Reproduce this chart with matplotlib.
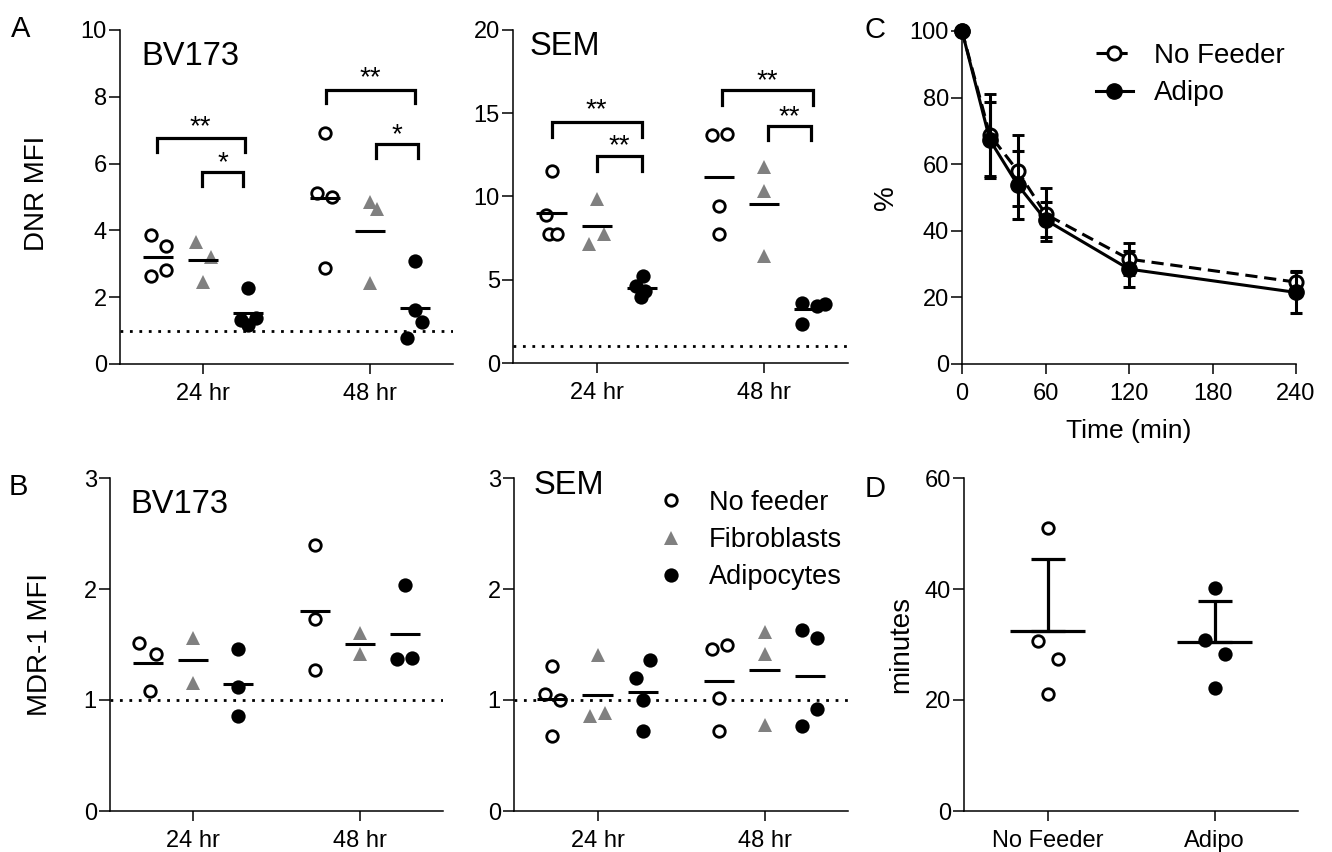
import matplotlib
matplotlib.use('Agg')
import matplotlib.pyplot as plt
from matplotlib.lines import Line2D
import numpy as np

plt.rcParams['font.family'] = ['Liberation Sans', 'DejaVu Sans']

# ---- data ----
times = ['24 hr', '48 hr']

# A: DNR MFI, each list = [24 hr values, 48 hr values]
bv_dnr_nf = [[3.87, 3.52, 2.80, 2.62], [6.91, 5.13, 5.01, 2.87]]
bv_dnr_fb = [[3.64, 3.20, 2.47], [4.84, 4.64, 2.44]]
bv_dnr_ad = [[2.27, 1.38, 1.33, 1.18], [3.07, 1.62, 1.25, 0.78]]

sem_dnr_nf = [[11.56, 8.90, 7.76, 7.76], [13.70, 13.76, 9.40, 7.76]]
sem_dnr_fb = [[9.84, 7.74, 7.14], [11.80, 10.34, 6.44]]
sem_dnr_ad = [[5.20, 4.60, 4.30, 3.94], [3.60, 3.44, 3.54, 2.36]]

# B: MDR-1 MFI
bv_mdr_nf = [[1.515, 1.41, 1.08], [2.40, 1.73, 1.27]]
bv_mdr_fb = [[1.56, 1.155], [1.605, 1.41]]
bv_mdr_ad = [[1.46, 1.12, 0.855], [2.04, 1.365, 1.38]]

sem_mdr_nf = [[1.305, 1.053, 1.00, 0.675], [1.458, 1.494, 1.02, 0.723]]
sem_mdr_fb = [[1.404, 0.855, 0.879], [1.614, 1.41, 0.774]]
sem_mdr_ad = [[1.36, 1.194, 1.00, 0.723], [1.63, 1.563, 0.915, 0.765]]

# C: retention over time
time_min = [0, 20, 40, 60, 120, 240]
nf_pct = [100, 68.8, 58.0, 45.0, 31.5, 24.6]
nf_err = [0, 12.2, 10.7, 8.0, 4.8, 3.0]
ad_pct = [100, 67.3, 53.8, 43.3, 28.5, 21.5]
ad_err = [0, 11.3, 10.3, 5.3, 5.5, 6.3]

# D: half-life minutes
d_groups = ['No Feeder', 'Adipo']
d_nf = [51.05, 30.65, 27.3, 21.06]
d_ad = [40.25, 30.9, 28.25, 22.08]

# ---- horizontal scatter of points (layout only, units of jitter step) ----
JIT = 0.044
bv_dnr_jit = {'nf': [[-1, 1, 1, -1], [0, -1, 1, 0]], 'fb': [[-1, 1, 0], [0, 1, 0]],
              'ad': [[0, 1, -1, 0], [0, 0, 1, -1]]}
sem_dnr_jit = {'nf': [[0, -0.8, -0.4, 0.7], [-0.9, 1.1, 0, 0]], 'fb': [[0, 1, -1], [0, 0, 0]],
               'ad': [[0.1, -0.8, 0.4, -0.1], [-0.95, 1, 2.1, -0.95]]}
bv_mdr_jit = {'nf': [[-1.3, 1, 0.2], [0, 0, 0]], 'fb': [[0, 0], [0, 0]],
              'ad': [[0, 0, 0], [0, -1, 1]]}
sem_mdr_jit = {'nf': [[0, -1, 1, 0], [-1, 1.1, 0, 0]], 'fb': [[0, -1, 1], [0, 0, 0]],
               'ad': [[1, -0.9, 0, 0], [-1, 1, 1, -1]]}
d_jit = [[0, -1.36, 1.45, 0], [0, -1.36, 1.45, 0]]

W, H = 1332, 852
fig = plt.figure(figsize=(W / 100, H / 100), dpi=100)


def rect(l, t, r, b):
    return [l / W, 1 - b / H, (r - l) / W, (b - t) / H]


style = {
    'nf': dict(marker='o', mfc='white', mec='black', mew=2.0, ms=8.3, ls='none'),
    'fb': dict(marker='^', mfc='#808080', mec='#808080', mew=0, ms=10, ls='none'),
    'ad': dict(marker='o', mfc='black', mec='black', mew=0, ms=10.3, ls='none'),
}
offsets = {'nf': -0.27, 'fb': 0.0, 'ad': 0.27}
TICK = 17
LAB = 20


def base_axes(ax):
    for s in ['top', 'right']:
        ax.spines[s].set_visible(False)
    for s in ['left', 'bottom']:
        ax.spines[s].set_linewidth(1.1)
    ax.tick_params(direction='out', width=1.1, labelsize=TICK)
    ax.tick_params(axis='y', length=8, pad=1.5)
    ax.tick_params(axis='x', length=7, pad=7)


def dot_panel(ax, series, jit, ymax, yticks, title, title_xy):
    base_axes(ax)
    for key, vals in series.items():
        for i, v in enumerate(vals):
            c = i + offsets[key]
            xs = c + np.array(jit[key][i]) * JIT
            ax.plot(xs, v, clip_on=False, zorder=3, **style[key])
            ax.hlines(np.mean(v), c - 0.09, c + 0.09, color='black', lw=2.2, zorder=4)
    ax.axhline(1, color='black', lw=2, ls=(0, (1, 2.4)), zorder=1)
    ax.set_xlim(-0.5, 1.5)
    ax.set_ylim(0, ymax)
    ax.set_yticks(yticks)
    ax.set_xticks([0, 1])
    ax.set_xticklabels(times)
    ax.text(title_xy[0], title_xy[1], title, transform=ax.transAxes, fontsize=23.5,
            va='center')


def bracket(ax, x0, x1, y_top, y_leg, label, y_lab):
    ax.plot([x0, x0, x1, x1], [y_leg, y_top, y_top, y_leg], color='black', lw=2.3,
            solid_joinstyle='miter', clip_on=False)
    ax.text((x0 + x1) / 2, y_lab, label, ha='center', va='center', fontsize=20)


# ---- A: BV173 DNR ----
axA1 = fig.add_axes(rect(120, 30, 453, 364))
dot_panel(axA1, {'nf': bv_dnr_nf, 'fb': bv_dnr_fb, 'ad': bv_dnr_ad}, bv_dnr_jit,
          10, [0, 2, 4, 6, 8, 10], 'BV173', (0.065, 0.92))
axA1.set_ylabel('DNR MFI', fontsize=LAB)
axA1.yaxis.set_label_coords(-0.21, 0.51)
bracket(axA1, -0.28, 0.25, 6.78, 6.36, '**', 7.1)
bracket(axA1, -0.01, 0.24, 5.74, 5.33, '*', 6.0)
bracket(axA1, 0.74, 1.27, 8.2, 7.8, '**', 8.55)
bracket(axA1, 1.04, 1.29, 6.58, 6.16, '*', 6.85)

# ---- A: SEM DNR ----
axA2 = fig.add_axes(rect(513, 30, 848, 363))
dot_panel(axA2, {'nf': sem_dnr_nf, 'fb': sem_dnr_fb, 'ad': sem_dnr_ad}, sem_dnr_jit,
          20, [0, 5, 10, 15, 20], 'SEM', (0.05, 0.95))
bracket(axA2, -0.27, 0.27, 14.46, 13.6, '**', 15.2)
bracket(axA2, 0.0, 0.27, 12.44, 11.56, '**', 13.0)
bracket(axA2, 0.75, 1.29, 16.4, 15.5, '**', 16.95)
bracket(axA2, 1.02, 1.28, 14.24, 13.4, '**', 14.75)

# ---- B: BV173 MDR-1 ----
axB1 = fig.add_axes(rect(110, 478, 443, 811))
dot_panel(axB1, {'nf': bv_mdr_nf, 'fb': bv_mdr_fb, 'ad': bv_mdr_ad}, bv_mdr_jit,
          3, [0, 1, 2, 3], 'BV173', (0.062, 0.919))
axB1.set_ylabel('MDR-1 MFI', fontsize=LAB)
axB1.yaxis.set_label_coords(-0.17, 0.5)

# ---- B: SEM MDR-1 ----
axB2 = fig.add_axes(rect(514, 478, 848, 811))
dot_panel(axB2, {'nf': sem_mdr_nf, 'fb': sem_mdr_fb, 'ad': sem_mdr_ad}, sem_mdr_jit,
          3, [0, 1, 2, 3], 'SEM', (0.058, 0.976))
leg_handles = [Line2D([], [], **style['nf']), Line2D([], [], **style['fb']),
               Line2D([], [], **style['ad'])]
axB2.legend(leg_handles, ['No feeder', 'Fibroblasts', 'Adipocytes'], loc='upper left',
            bbox_to_anchor=(0.43, 0.965), frameon=False, fontsize=19.5, handlelength=1.0,
            handletextpad=0.9, labelspacing=0.42, borderpad=0, borderaxespad=0)

# ---- C: time course ----
axC = fig.add_axes(rect(962, 31, 1296, 364))
base_axes(axC)
axC.errorbar(time_min, nf_pct, yerr=nf_err, color='black', lw=2.2, ls=(0, (4, 2.2)),
             marker='o', mfc='white', mec='black', mew=2.1, ms=9.5, capsize=4.5,
             capthick=2.2, elinewidth=2.2, clip_on=False, zorder=3, label='No Feeder')
axC.errorbar(time_min, ad_pct, yerr=ad_err, color='black', lw=2.2, marker='o', ms=11,
             capsize=4.5, capthick=2.2, elinewidth=2.2, clip_on=False, zorder=4,
             label='Adipo')
axC.set_xlim(0, 240)
axC.set_ylim(0, 100)
axC.set_xticks([0, 60, 120, 180, 240])
axC.set_yticks([0, 20, 40, 60, 80, 100])
axC.set_xlabel('Time (min)', fontsize=LAB - 1, labelpad=10)
axC.set_ylabel('%', fontsize=LAB)
axC.yaxis.set_label_coords(-0.19, 0.5)
hC, lC = axC.get_legend_handles_labels()
axC.legend([h[0] for h in hC], lC, loc='upper left', bbox_to_anchor=(0.40, 0.965),
           frameon=False, fontsize=20, handlelength=1.35, handletextpad=0.75,
           labelspacing=0.42, borderpad=0, borderaxespad=0)

# ---- D: minutes ----
axD = fig.add_axes(rect(964, 478, 1298, 811))
base_axes(axD)
for i, (vals, key) in enumerate([(d_nf, 'nf'), (d_ad, 'ad')]):
    xs = i + np.array(d_jit[i]) * JIT
    axD.plot(xs, vals, zorder=3, clip_on=False, **style[key])
    m = np.mean(vals)
    sd = np.std(vals, ddof=1)
    axD.hlines(m, i - 0.225, i + 0.225, color='black', lw=2.3, zorder=4)
    axD.errorbar([i], [m], yerr=[[0], [sd]], color='black', elinewidth=2.3,
                 capsize=12, capthick=2.3, zorder=4)
axD.set_xlim(-0.5, 1.5)
axD.set_ylim(0, 60)
axD.set_yticks([0, 20, 40, 60])
axD.set_xticks([0, 1])
axD.set_xticklabels(d_groups)
axD.set_ylabel('minutes', fontsize=LAB)
axD.yaxis.set_label_coords(-0.15, 0.5)

# ---- panel letters ----
for lab, x, y in [('A', 11, 15), ('B', 9, 473), ('C', 865, 16), ('D', 865, 475)]:
    fig.text(x / W, 1 - y / H, lab, fontsize=21, ha='left', va='top')

fig.savefig('out.png', dpi=100)
